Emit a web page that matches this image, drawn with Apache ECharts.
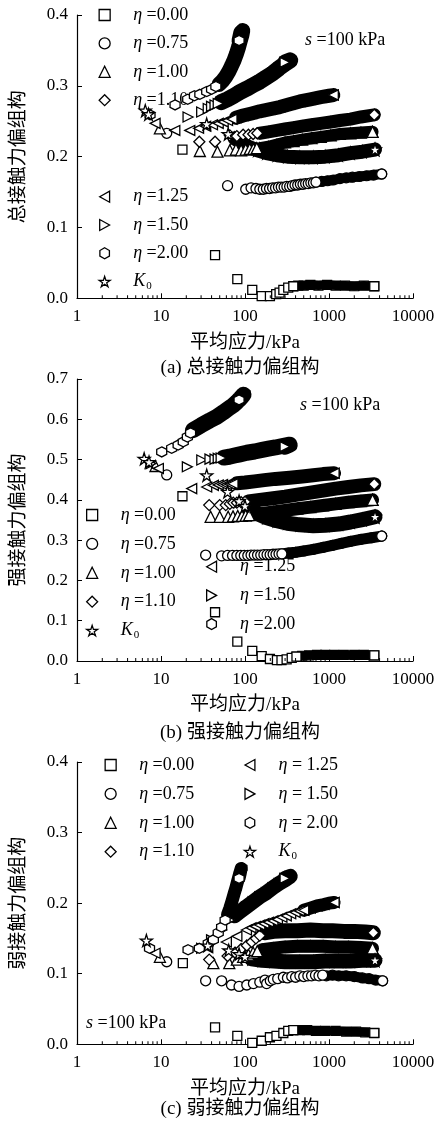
<!DOCTYPE html>
<html><head><meta charset="utf-8">
<style>html,body{margin:0;padding:0;background:#fff}#c{width:448px;height:1122px}</style>
<script src="https://cdn.jsdelivr.net/npm/echarts@6.0.0/dist/echarts.min.js"></script>
</head><body><div id="c"></div>
<script>
// ---------------- data ----------------
const SERIES_NAMES = ['η=0.00','η=0.75','η=1.00','η=1.10','η=1.25','η=1.50','η=2.00','K0'];
const X_TICK_LABELS = ['1','10','100','1000','10000'];
const MINOR_TICKS = [2,3,4,5,6,7,8,9,20,30,40,50,60,70,80,90,200,300,400,500,600,700,800,900,2000,3000,4000,5000,6000,7000,8000,9000];

// (a) total
const A_E000_PTS = [[18,0.21],[44,0.061],[81,0.027],[122,0.012],[158,0.003],[198,0.003],[235,0.006],[258,0.008],[286,0.012],[327,0.015],[376,0.017]];
const A_E000_BAND = [[376,0.017],[430,0.018],[500,0.018],[600,0.019],[750,0.018],[950,0.019],[1200,0.018],[1550,0.018],[2000,0.017],[2600,0.018],[3460,0.017]];
const A_E075_PTS = [[11.7,0.233],[62,0.159],[102,0.154],[118,0.156],[135,0.155],[150,0.154],[165,0.154],[180,0.155],[196,0.155],[213,0.156],[231,0.156],[250,0.157],[270,0.157],[292,0.157],[315,0.158],[340,0.158],[366,0.159],[394,0.16],[424,0.16],[456,0.161],[490,0.161],[527,0.162],[566,0.162],[608,0.163],[652,0.163],[700,0.164]];
const A_E075_BAND = [[700,0.164],[820,0.165],[960,0.166],[1120,0.167],[1350,0.169],[1600,0.17],[1900,0.171],[2300,0.172],[2800,0.173],[3400,0.174],[4240,0.1755]];
const A_E100_PTS = [[9.7,0.24],[29,0.208],[47,0.207],[66,0.209],[78,0.21],[90,0.209],[102,0.21],[114,0.211],[126,0.211],[138,0.212]];
const A_E100_BAND = [[150,0.212],[190,0.214],[240,0.217],[300,0.22],[380,0.222],[480,0.224],[620,0.226],[800,0.228],[1050,0.23],[1350,0.232],[1800,0.233],[2400,0.234],[3300,0.235]];
const A_E110_PTS = [[28.6,0.221],[44,0.221],[66,0.23],[80,0.229],[95,0.231],[110,0.231],[125,0.232],[140,0.233]];
const A_E110_BAND = [[150,0.233],[190,0.235],[240,0.237],[300,0.239],[380,0.241],[480,0.243],[620,0.245],[800,0.247],[1050,0.249],[1350,0.251],[1800,0.253],[2400,0.256],[3460,0.259]];
const A_E125_PTS = [[8.5,0.247],[14.6,0.237],[22,0.237],[28,0.24],[34,0.243],[41,0.245],[48,0.247],[55,0.249],[62,0.251],[70,0.253]];
const A_E125_BAND = [[78,0.255],[95,0.258],[120,0.261],[150,0.264],[200,0.267],[260,0.27],[340,0.274],[450,0.278],[600,0.281],[800,0.284],[1000,0.286],[1125,0.287]];
const A_E150_PTS = [[21,0.256],[30.5,0.263],[36.5,0.268],[40,0.271],[44,0.273],[48,0.275]];
const A_E150_BAND = [[52,0.277],[62,0.281],[74,0.286],[87,0.291],[105,0.296],[125,0.301],[150,0.306],[180,0.312],[215,0.318],[255,0.325],[300,0.331],[345,0.336],[300,0.333]];
const A_E200_PTS = [[7.4,0.259],[14.7,0.273],[20.8,0.281],[25,0.286],[29,0.288],[35,0.292],[40,0.295],[45,0.299]];
const A_E200_BAND = [[49,0.302],[54,0.307],[59,0.313],[64,0.32],[69,0.328],[74,0.336],[79,0.345],[84,0.355],[88,0.364],[92,0.372],[94,0.378],[89,0.375],[85,0.364]];
const A_K0_PTS = [[6.5,0.265],[7.1,0.26],[35,0.246],[63,0.232]];
const A_K0_BAND = [[75,0.226],[90,0.22],[110,0.214],[140,0.209],[180,0.205],[240,0.202],[320,0.2],[450,0.199],[650,0.199],[900,0.2],[1300,0.202],[1800,0.205],[2500,0.207],[3530,0.21]];

// (b) strong
const B_E000_PTS = [[18,0.409],[44,0.121],[81,0.048],[122,0.025],[158,0.012],[198,0.005],[240,0.002],[272,0.002],[313,0.004],[360,0.008],[410,0.011]];
const B_E000_BAND = [[410,0.011],[480,0.013],[580,0.014],[720,0.015],[900,0.015],[1150,0.015],[1500,0.015],[2000,0.015],[2600,0.015],[3460,0.014]];
const B_E075_PTS = [[11.7,0.462],[34,0.263],[52.7,0.261],[62,0.262],[71,0.262],[80,0.262],[89,0.262],[98,0.262],[108,0.262],[118,0.263],[129,0.263],[141,0.263],[154,0.263],[168,0.264],[183,0.264],[199,0.264],[216,0.265],[234,0.265],[254,0.266],[275,0.266]];
const B_E075_BAND = [[275,0.266],[330,0.268],[400,0.27],[500,0.273],[650,0.277],[850,0.282],[1100,0.287],[1400,0.292],[1800,0.297],[2400,0.302],[3200,0.306],[4240,0.31]];
const B_E100_PTS = [[8.6,0.484],[39,0.358],[50,0.358],[63,0.358],[72,0.359],[82,0.36],[92,0.36],[102,0.361],[112,0.362]];
const B_E100_BAND = [[120,0.363],[160,0.366],[220,0.37],[300,0.374],[420,0.378],[600,0.382],[850,0.386],[1200,0.39],[1700,0.394],[2400,0.397],[3300,0.4]];
const B_E110_PTS = [[37.5,0.387],[50,0.387],[59,0.387],[66,0.39],[72.5,0.393],[80,0.393],[90,0.394],[100,0.395]];
const B_E110_BAND = [[110,0.396],[150,0.4],[217,0.404],[300,0.408],[420,0.413],[600,0.418],[850,0.423],[1200,0.428],[1700,0.432],[2400,0.436],[3460,0.439]];
const B_E125_PTS = [[9.3,0.478],[23.2,0.428],[35,0.432],[42,0.436],[48,0.437],[54,0.438],[60,0.438],[66,0.439],[72,0.44]];
const B_E125_BAND = [[80,0.441],[100,0.443],[130,0.446],[170,0.449],[230,0.452],[340,0.455],[480,0.458],[650,0.461],[850,0.464],[1150,0.466]];
const B_E150_PTS = [[7.6,0.49],[20.6,0.482],[30.6,0.499],[38.3,0.501],[44,0.501],[48,0.503],[52,0.504]];
const B_E150_BAND = [[56,0.505],[65,0.507],[75,0.51],[87,0.513],[105,0.517],[130,0.52],[160,0.524],[190,0.527],[230,0.53],[270,0.533],[340,0.537],[300,0.532]];
const B_E200_PTS = [[10.2,0.519],[13.4,0.528],[16,0.536],[18.4,0.544],[20.6,0.556],[22.5,0.566]];
const B_E200_BAND = [[24,0.573],[30,0.585],[38,0.597],[46,0.606],[55,0.617],[64,0.627],[72.5,0.635],[80,0.643],[88,0.652],[96,0.661],[100,0.665],[92,0.656],[85,0.648]];
const B_K0_PTS = [[6.3,0.502],[7.2,0.494],[35,0.461],[62,0.42],[85,0.397],[100,0.385]];
const B_K0_BAND = [[112,0.376],[140,0.366],[180,0.356],[240,0.348],[320,0.342],[450,0.338],[650,0.336],[900,0.337],[1300,0.34],[1800,0.345],[2500,0.351],[3530,0.358]];

// (c) weak
const C_E000_PTS = [[18.2,0.115],[44,0.024],[81,0.012],[122,0.002],[158,0.005],[198,0.01],[237,0.012],[286,0.016],[327,0.019],[376,0.02]];
const C_E000_BAND = [[376,0.02],[450,0.02],[550,0.02],[700,0.019],[900,0.019],[1200,0.019],[1600,0.018],[2100,0.018],[2700,0.017],[3460,0.016]];
const C_E075_PTS = [[11.7,0.117],[34,0.09],[52.7,0.09],[69,0.084],[85,0.082],[105,0.084],[126,0.086],[150,0.088],[173,0.091],[181,0.086],[200,0.09],[217,0.092],[245,0.093],[286,0.095],[320,0.094],[360,0.096],[400,0.095],[450,0.097],[500,0.096],[560,0.097],[620,0.097],[690,0.098],[760,0.097],[840,0.098]];
const C_E075_BAND = [[930,0.097],[1100,0.098],[1300,0.097],[1600,0.097],[2000,0.096],[2500,0.094],[3000,0.093],[3600,0.091],[4350,0.09]];
const C_E100_PTS = [[9.7,0.124],[42,0.115],[65,0.115],[80,0.12],[95,0.124],[110,0.127],[125,0.13],[140,0.132]];
const C_E100_BAND = [[160,0.134],[220,0.136],[300,0.138],[420,0.139],[600,0.139],[850,0.139],[1200,0.138],[1700,0.138],[2400,0.137],[3300,0.136]];
const C_E110_PTS = [[37.5,0.12],[62,0.125],[76,0.13],[90,0.135],[105,0.14],[120,0.145],[135,0.15],[150,0.154]];
const C_E110_BAND = [[170,0.158],[220,0.16],[300,0.161],[420,0.161],[600,0.162],[850,0.161],[1100,0.161],[1500,0.16],[2000,0.16],[2700,0.159],[3370,0.158]];
const C_E125_PTS = [[8.5,0.129],[36,0.137],[60,0.145],[80,0.153],[104,0.162],[118,0.165],[133,0.167],[150,0.169],[168,0.171],[190,0.173],[215,0.175],[243,0.177],[275,0.18],[310,0.182],[350,0.185],[395,0.187],[445,0.189],[500,0.19]];
const C_E125_BAND = [[500,0.19],[600,0.193],[720,0.196],[870,0.198],[1000,0.2],[1150,0.201]];
const C_E150_PTS = [[30.5,0.136],[40,0.148],[52.7,0.162],[66,0.176]];
const C_E150_BAND = [[75,0.182],[87,0.188],[104,0.195],[125,0.202],[150,0.209],[180,0.215],[215,0.222],[255,0.228],[300,0.233],[345,0.238],[300,0.235]];
const C_E200_PTS = [[7.3,0.136],[21,0.134],[28.6,0.136],[36.5,0.143],[42,0.148],[48,0.158],[52.7,0.166],[58,0.176]];
const C_E200_BAND = [[62,0.184],[66,0.193],[70,0.203],[74,0.213],[78,0.222],[82,0.232],[86,0.241],[90,0.249],[92,0.25],[88,0.243],[85,0.235]];
const C_K0_PTS = [[6.7,0.147],[36,0.14],[64,0.133],[85,0.128],[100,0.124]];
const C_K0_BAND = [[120,0.121],[160,0.119],[220,0.118],[300,0.117],[450,0.117],[650,0.117],[900,0.118],[1300,0.118],[1800,0.118],[2500,0.119],[3530,0.119]];

// ---------------- styling ----------------
const HEX = 'path://M5,0L9.33,2.5L9.33,7.5L5,10L0.67,7.5L0.67,2.5Z';
const STAR = 'path://M50,0L61.2,34.6L97.6,34.5L68.1,55.9L79.4,90.5L50,69L20.6,90.5L31.9,55.9L2.4,34.5L38.8,34.6Z';
const SYMBOLS = ['rect','circle','triangle','diamond','path://M0,5L9,0L9,10Z','path://M9,5L0,0L0,10Z',HEX,STAR];
const SIZES = [9,10,11,11,10,10,10,12];

const PANELS = [
  {pts:[A_E000_PTS,A_E075_PTS,A_E100_PTS,A_E110_PTS,A_E125_PTS,A_E150_PTS,A_E200_PTS,A_K0_PTS],
   band:[A_E000_BAND,A_E075_BAND,A_E100_BAND,A_E110_BAND,A_E125_BAND,A_E150_BAND,A_E200_BAND,A_K0_BAND],
   w:[9,10,12,13,14,16,15,14]},
  {pts:[B_E000_PTS,B_E075_PTS,B_E100_PTS,B_E110_PTS,B_E125_PTS,B_E150_PTS,B_E200_PTS,B_K0_PTS],
   band:[B_E000_BAND,B_E075_BAND,B_E100_BAND,B_E110_BAND,B_E125_BAND,B_E150_BAND,B_E200_BAND,B_K0_BAND],
   w:[9,11,13,14,14,16,16,15]},
  {pts:[C_E000_PTS,C_E075_PTS,C_E100_PTS,C_E110_PTS,C_E125_PTS,C_E150_PTS,C_E200_PTS,C_K0_PTS],
   band:[C_E000_BAND,C_E075_BAND,C_E100_BAND,C_E110_BAND,C_E125_BAND,C_E150_BAND,C_E200_BAND,C_K0_BAND],
   w:[9,10,13,15,13,15,13,15]}
];

const SERIF = "'Liberation Serif','Noto Sans CJK SC'";
const WHITE_MARK = {color:'#fff', borderColor:'#000', borderWidth:1.3, opacity:1};
const series = [];
PANELS.forEach((P, gi) => {
  const ax = {xAxisIndex: gi, yAxisIndex: gi};
  SERIES_NAMES.forEach((nm, k) => series.push(Object.assign({
    type:'line', name:'band'+gi+'_'+k, data:P.band[k], showSymbol:false, symbol:'none', silent:true,
    lineStyle:{color:'#000', width:P.w[k], cap:'round', join:'round', opacity:1}, z:2
  }, ax)));
  SERIES_NAMES.forEach((nm, k) => series.push(Object.assign({
    type:'scatter', name:'bm'+gi+'_'+k, data:P.band[k], symbol:SYMBOLS[k], symbolSize:SIZES[k], silent:true,
    itemStyle:{color:'rgba(0,0,0,0)', borderColor:'#000', borderWidth:1.2, opacity:1}, z:3
  }, ax)));
  SERIES_NAMES.forEach((nm, k) => series.push(Object.assign({
    type:'scatter', name:nm, data:P.pts[k], symbol:SYMBOLS[k], symbolSize:SIZES[k], silent:true,
    itemStyle:WHITE_MARK, z:4
  }, ax)));
  SERIES_NAMES.forEach((nm, k) => series.push(Object.assign({
    type:'scatter', name:'end'+gi+'_'+k, data:[P.band[k][P.band[k].length-1]], symbol:SYMBOLS[k], symbolSize:SIZES[k], silent:true,
    itemStyle:WHITE_MARK, z:5
  }, ax)));
  series.push(Object.assign({
    type:'scatter', name:'minor'+gi, data:MINOR_TICKS.map(p => [p, 0]), symbol:'rect', symbolSize:[1,3],
    symbolOffset:[0,-1.5], itemStyle:{color:'#000', opacity:1}, silent:true, clip:false, z:6
  }, ax));
});

const GRIDS = [
  {left:77, top:15, width:336, height:283.3},
  {left:77, top:379, width:336, height:282},
  {left:77, top:762, width:336, height:282.3}
];
const Y_MAX = [0.4, 0.7, 0.4];
const Y_NAMES = ['总接触力偏组构','强接触力偏组构','弱接触力偏组构'];

const xAxes = GRIDS.map((g, i) => ({
  gridIndex:i, type:'log', logBase:10, min:1, max:10000,
  name:'平均应力/kPa', nameLocation:'middle', nameGap:35,
  nameTextStyle:{fontSize:19, fontFamily:SERIF, color:'#000'},
  axisLine:{show:true, lineStyle:{color:'#000', width:1.2}},
  axisTick:{show:true, inside:true, length:5, lineStyle:{color:'#000'}},
  splitLine:{show:false},
  axisLabel:{color:'#000', fontSize:17, fontFamily:SERIF, margin:10,
    formatter: v => X_TICK_LABELS[Math.round(Math.log10(v))] }
}));
const yAxes = GRIDS.map((g, i) => ({
  gridIndex:i, type:'value', min:0, max:Y_MAX[i], interval:0.1,
  name:Y_NAMES[i], nameLocation:'middle', nameGap:48,
  nameTextStyle:{fontSize:19, fontFamily:SERIF, color:'#000'},
  axisLine:{show:true, lineStyle:{color:'#000', width:1.2}},
  axisTick:{show:true, inside:true, length:5, lineStyle:{color:'#000'}},
  splitLine:{show:false},
  axisLabel:{color:'#000', fontSize:17, fontFamily:SERIF, margin:9, formatter: v => v.toFixed(1)}
}));

const RICH = {
  i:{fontStyle:'italic', fontSize:18, fontFamily:SERIF, padding:[0,0,0,18], lineHeight:20},
  t:{fontSize:18, fontFamily:SERIF, lineHeight:20},
  k:{fontStyle:'italic', fontSize:18, fontFamily:SERIF, padding:[0,0,0,18], lineHeight:20},
  s:{fontSize:11, fontFamily:SERIF, padding:[9,0,0,1], lineHeight:20}
};
const fmtTight = n => n === 'K0' ? '{k|K}{s|0}' : '{i|η}{t| =' + n.slice(2) + '}';
const fmtWide = n => n === 'K0' ? '{k|K}{s|0}' : '{i|η}{t| = ' + n.slice(2) + '}';
function legend(names, left, top, gap, fmt) {
  return {data:names, orient:'vertical', left, top, itemGap:gap, itemWidth:11, itemHeight:11, padding:0,
    selectedMode:false, z:1, formatter:fmt,
    itemStyle:{color:'#fff', borderColor:'#000', borderWidth:1.3, opacity:1},
    textStyle:{fontSize:18, fontFamily:SERIF, color:'#000', lineHeight:20, rich:RICH}};
}

const sLabel = (x, y) => ({type:'text', x, y, z:10, style:{
  text:'{i|s}{t| =100 kPa}', verticalAlign:'middle', fill:'#000',
  rich:{i:{fontStyle:'italic', fontSize:18, fontFamily:SERIF}, t:{fontSize:18, fontFamily:SERIF}}}});
const caption = (x, y, text) => ({type:'text', x, y, z:10, style:{
  text, align:'center', verticalAlign:'middle', fill:'#000', fontSize:19, fontFamily:SERIF}});

const option = {
  animation:false,
  backgroundColor:'#fff',
  grid:GRIDS,
  xAxis:xAxes,
  yAxis:yAxes,
  legend:[
    legend(['η=0.00','η=0.75','η=1.00','η=1.10'], 98.5, 5, 8.4, fmtTight),
    legend(['η=1.25','η=1.50','η=2.00','K0'], 98.5, 186.7, 8.3, fmtTight),
    legend(['η=0.00','η=0.75','η=1.00','η=1.10','K0'], 86, 505, 8.9, fmtTight),
    legend(['η=1.25','η=1.50','η=2.00'], 206, 556.7, 8.7, fmtTight),
    legend(['η=0.00','η=0.75','η=1.00','η=1.10'], 104.5, 755, 8.9, fmtTight),
    legend(['η=1.25','η=1.50','η=2.00','K0'], 243.8, 755, 8.9, fmtWide)
  ],
  graphic:[
    sLabel(305, 40), sLabel(300, 405), sLabel(86, 1023),
    caption(240, 368, '(a) 总接触力偏组构'),
    caption(240, 733, '(b) 强接触力偏组构'),
    caption(240, 1109, '(c) 弱接触力偏组构')
  ],
  series
};
const chart = echarts.init(document.getElementById('c'), null, {renderer:'canvas'});
chart.setOption(option);
</script>
</body></html>
